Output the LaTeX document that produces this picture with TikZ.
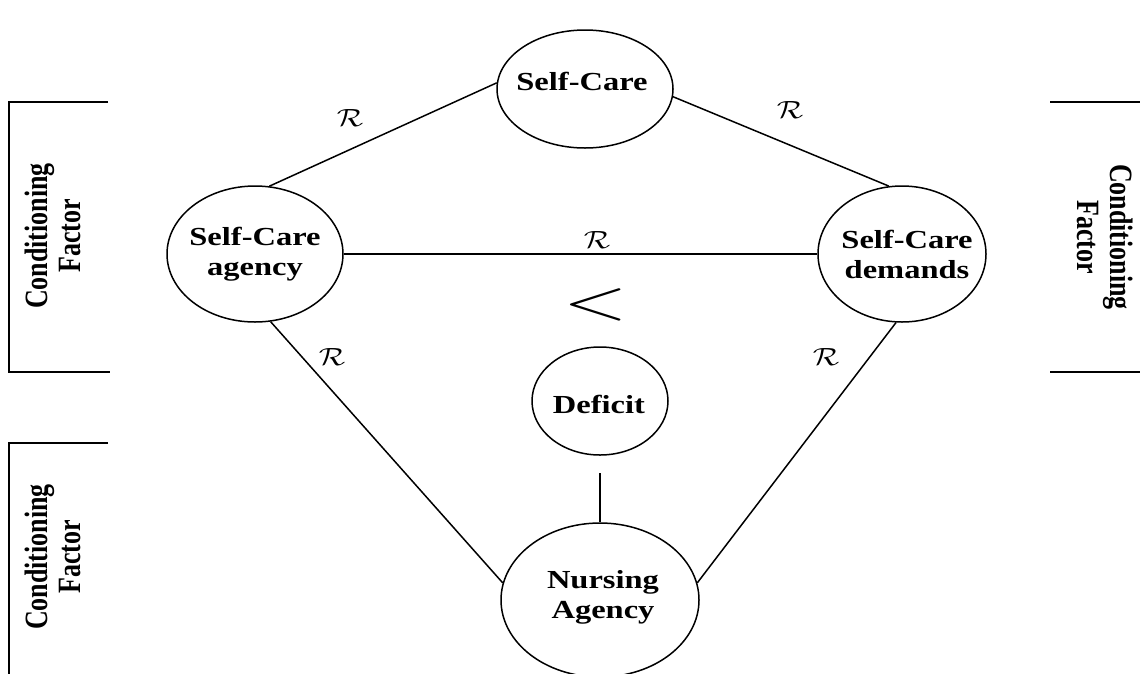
\documentclass[tikz,border=0pt]{standalone}
\usepackage{fontspec}
\setmainfont{Liberation Serif}
\usetikzlibrary{shapes.geometric}
\newcommand{\sx}[1]{\scalebox{1.25}[1]{#1}}
\begin{document}
\begin{tikzpicture}[x=1pt,y=-1pt,
  ell/.style={draw, ellipse, line width=1.5pt, inner sep=0pt},
  lbl/.style={font=\bfseries\fontsize{26}{30}\selectfont, align=center, inner sep=0pt},
  rel/.style={font=\fontsize{24.88}{30}\selectfont, inner sep=0pt},
  con/.style={line width=1.5pt},
  brk/.style={line width=2.5pt},
  side/.style={font=\bfseries\fontsize{26}{26.5}\selectfont, inner sep=0pt}]
\useasboundingbox (0,0) rectangle (1140,673);
% ellipses
\node[ell, minimum width=176pt, minimum height=118pt] (sc) at (585,89) {};
\node[ell, minimum width=176pt, minimum height=136pt] (agc) at (255,254) {};
\node[ell, minimum width=168pt, minimum height=136pt] (dem) at (902,254) {};
\node[ell, minimum width=136pt, minimum height=108pt] (def) at (600,401) {};
\node[ell, minimum width=198pt, minimum height=154pt] (nur) at (600,600) {};
% ellipse texts
\node[lbl] (sct) at (582,81) {\sx{Self-Care}};
\node[lbl] (agct) at (255,254) {\sx{Self-Care}\\\sx{agency}};
\node[lbl] (demt) at (907,254) {\sx{Self-Care}\\\sx{demands}};
\node[lbl] (deft) at (599,404) {\sx{Deficit}};
\node[lbl] (nurt) at (603,597) {\sx{Nursing}\\\sx{Agency}};
% connectors
\draw[con] (agc.78) -- (sc.176);
\draw[con] (sc.-5) -- (dem.101);
\draw[con] (agc.east) -- (dem.west);
\draw[con] (agc.-77) -- (nur.170);
\draw[con] (dem.-95) -- (nur.10);
\coordinate (dl) at (600,473);
\draw[con] (dl) -- (nur.north);
% relation labels
\node[rel] (r1) at (350,118) {\sx{$\mathcal{R}$}};
\node[rel] (r2) at (790,110) {\sx{$\mathcal{R}$}};
\node[rel] (r3) at (597,240) {\sx{$\mathcal{R}$}};
\node[rel] (r4) at (332,357) {\sx{$\mathcal{R}$}};
\node[rel] (r5) at (826,357) {\sx{$\mathcal{R}$}};
\node[rel] (lt) at (596,305) {\scalebox{3.4}[2.35]{$<$}};
% brackets
\draw[brk] (108,102) -- (9,102) -- (9,372) -- (110,372);
\draw[brk] (108,443) -- (9,443) -- (9,676);
\draw[brk] (1050,102) -- (1142,102);
\draw[brk] (1050,372) -- (1142,372);
% side texts
\node[side, rotate=90] (cf1) at (57,236) {\scalebox{1}[1.25]{\begin{tabular}{@{}c@{}}Conditioning\\Factor\end{tabular}}};
\node[side, rotate=90] (cf2) at (57,557) {\scalebox{1}[1.25]{\begin{tabular}{@{}c@{}}Conditioning\\Factor\end{tabular}}};
\node[side, rotate=-90] (cf3) at (1101,237) {\scalebox{1}[1.25]{\begin{tabular}{@{}c@{}}Conditioning\\Factor\end{tabular}}};
\end{tikzpicture}
\end{document}
